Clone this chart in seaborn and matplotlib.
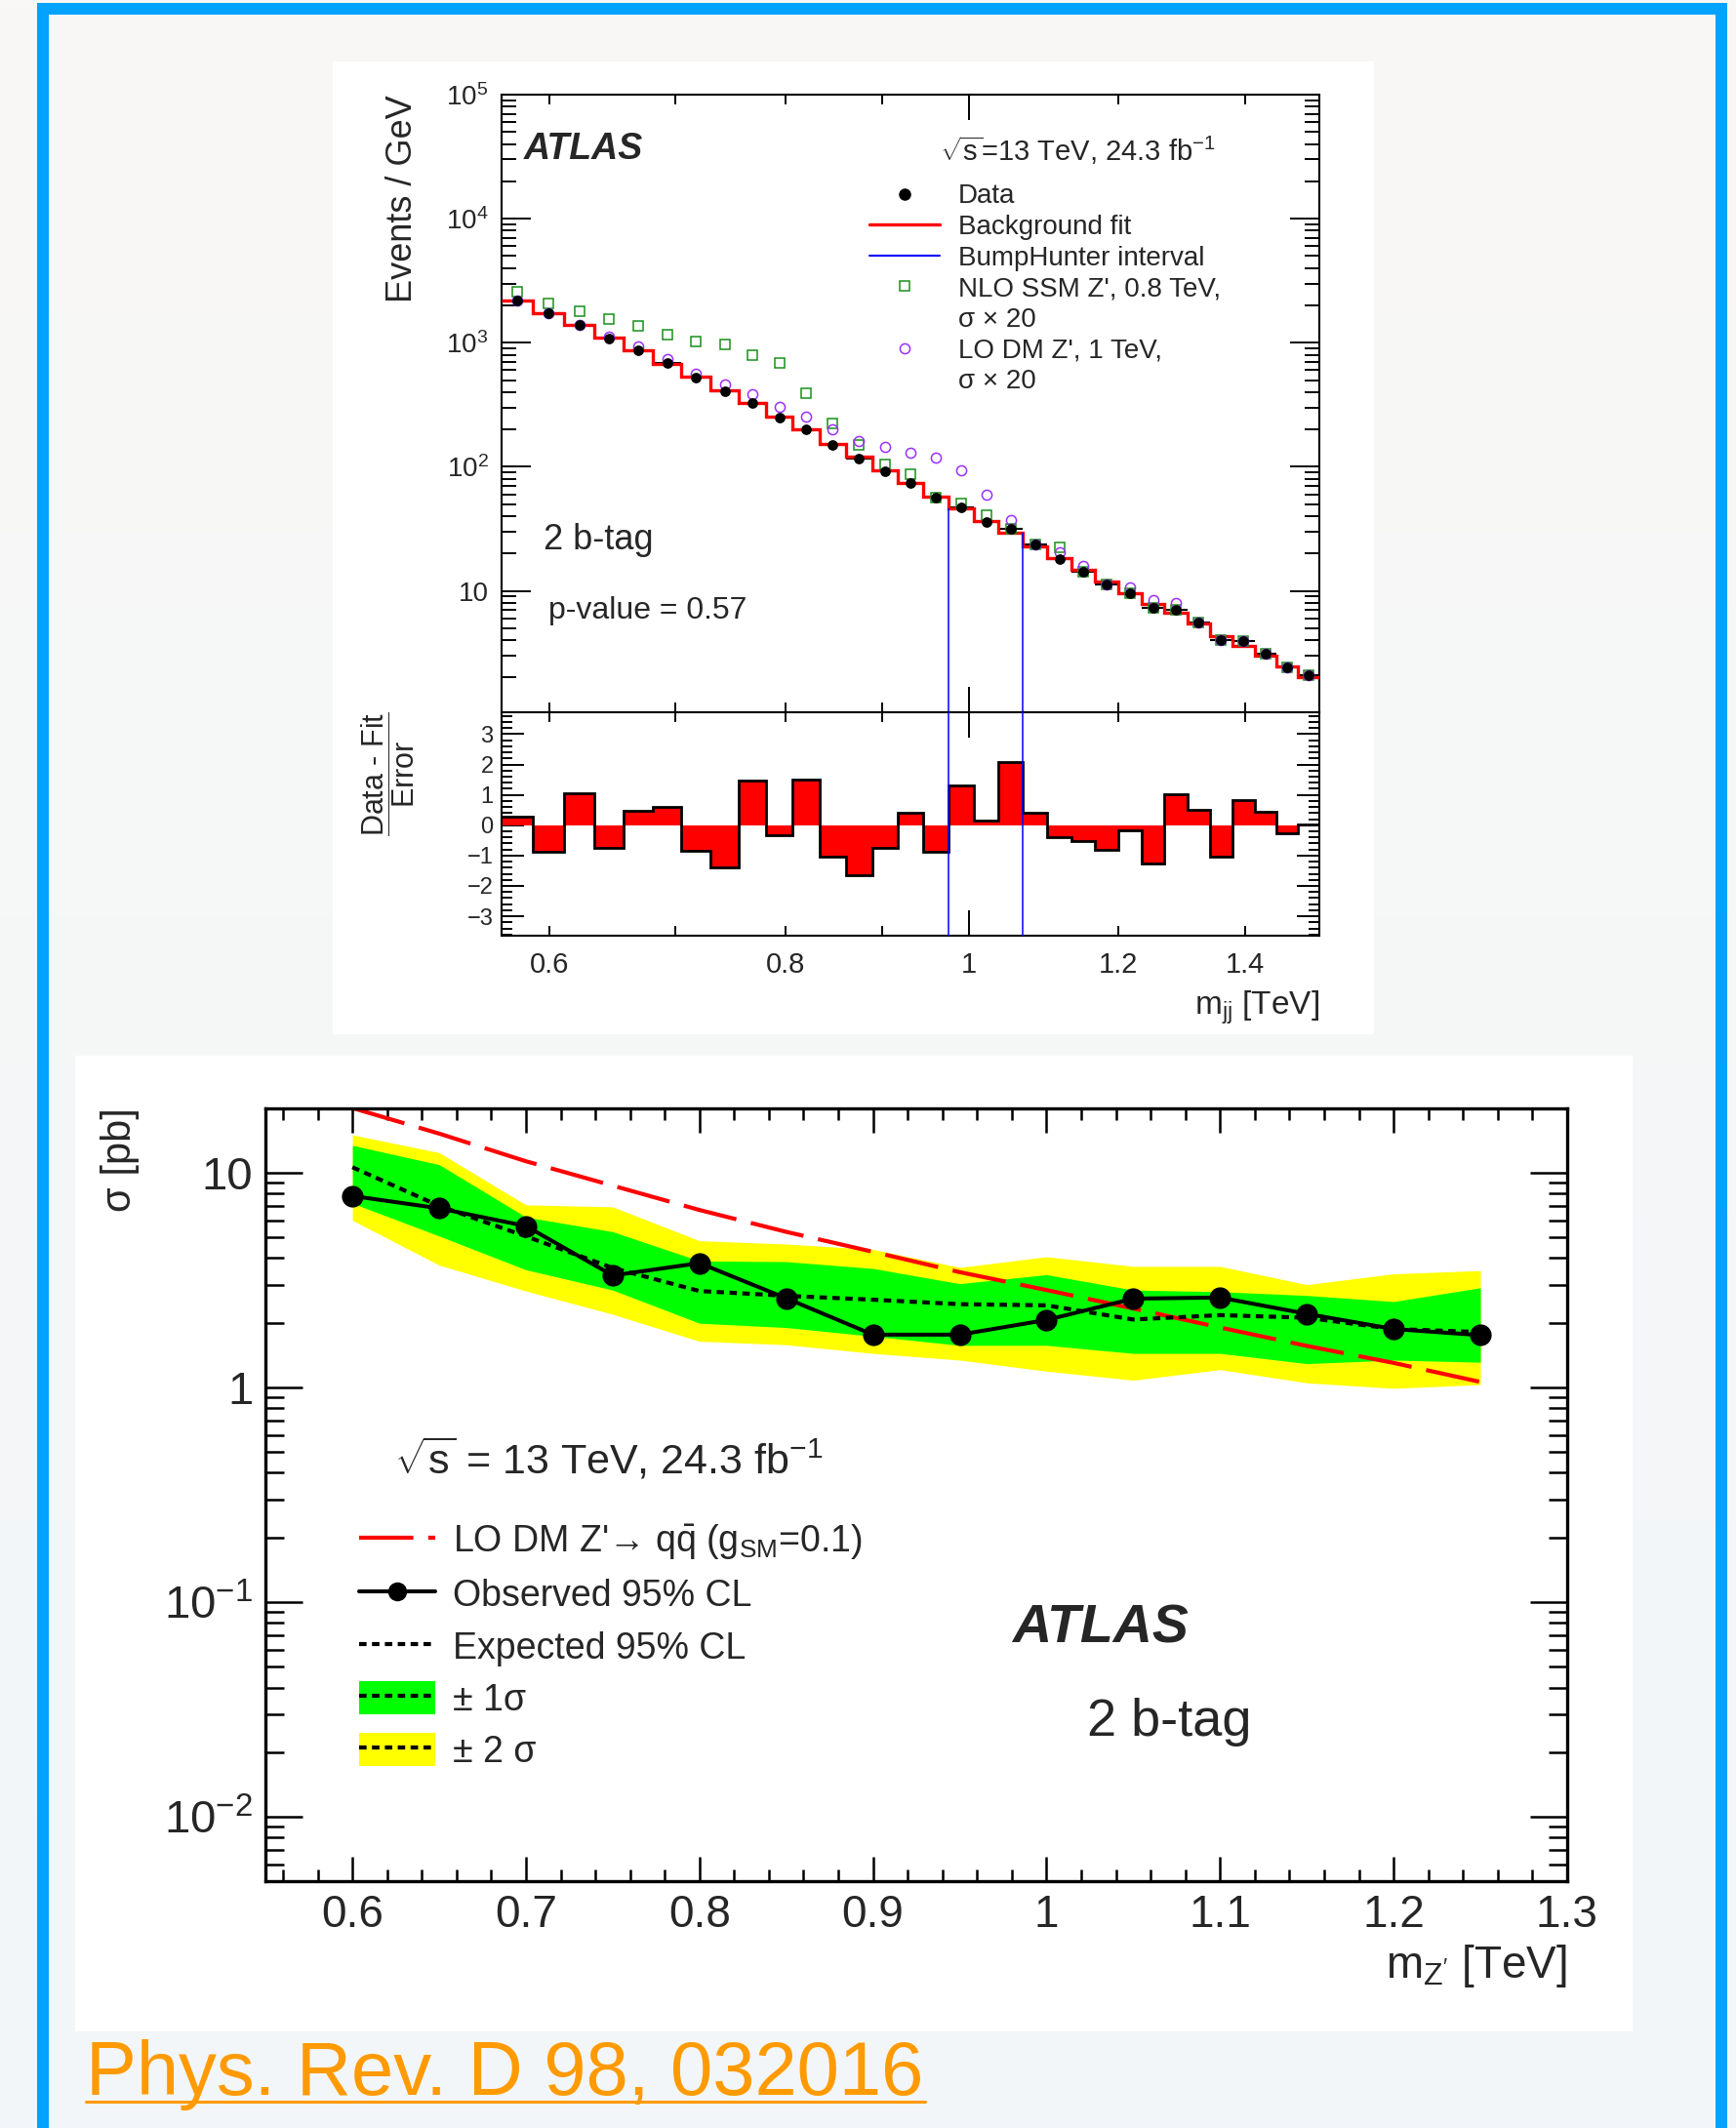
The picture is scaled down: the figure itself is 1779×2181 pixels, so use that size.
import numpy as np
import matplotlib
matplotlib.use("Agg")
import matplotlib.pyplot as plt
import seaborn as sns
from matplotlib.lines import Line2D
from matplotlib.patches import Rectangle, Patch
from matplotlib.colors import LinearSegmentedColormap
from matplotlib.ticker import (FixedLocator, NullFormatter, FuncFormatter,
                               LogLocator, MultipleLocator)

# ---------------- top panel: dijet mass spectrum (2 b-tag) ----------------
mjj_edges = [0.566, 0.588, 0.611, 0.634, 0.657, 0.681, 0.705, 0.730, 0.756,
             0.781, 0.807, 0.834, 0.861, 0.889, 0.917, 0.946, 0.976, 1.006,
             1.037, 1.068, 1.100, 1.133, 1.166, 1.199, 1.234, 1.269, 1.305,
             1.341, 1.378, 1.416, 1.455, 1.493, 1.533]
data_events = [2190, 1742, 1395, 1090, 872, 682, 524, 405, 328, 249, 201, 151,
               117, 91.5, 73.7, 56.6, 46.8, 36.1, 31.5, 23.5, 17.9, 14.2,
               11.35, 9.53, 7.33, 7.04, 5.58, 4.0, 3.95, 3.11, 2.4, 2.08]
bkg_fit = [2178, 1745, 1392, 1092, 872, 680, 532, 416, 325, 252, 199, 154,
           120, 94, 74, 57.5, 46, 36.4, 29.3, 23.0, 18.5, 14.8, 11.85, 9.65,
           7.9, 6.6, 5.42, 4.35, 3.62, 2.98, 2.45, 2.03]
ssm_zp_x20 = [2560, 2080, 1795, 1550, 1375, 1168, 1015, 965, 797, 684, 390,
              223, 151, 104, 87, 56.6, 51, 41, 31.5, 23.8, 22.6, 14.2, 11.35,
              9.53, 7.33, 7.04, 5.58, 4.0, 3.95, 3.11, 2.4, 2.08]
dm_zp_x20 = [2190, 1742, 1395, 1130, 940, 740, 565, 465, 388, 305, 255, 202,
             162, 144, 130, 118, 93, 59.5, 37.5, 23.5, 20.4, 15.8, 11.35, 10.6,
             8.4, 7.95, 5.58, 4.0, 3.95, 3.11, 2.4, 2.08]
signif = [0.27, -0.89, 1.04, -0.74, 0.47, 0.59, -0.86, -1.38, 1.48, -0.34,
          1.49, -1.05, -1.66, -0.75, 0.40, -0.87, 1.31, 0.16, 2.09, 0.41,
          -0.40, -0.51, -0.80, -0.18, -1.26, 1.01, 0.51, -1.03, 0.83, 0.45,
          -0.25, 0.02]
bh_low, bh_high = 0.976, 1.068

# ---------------- bottom panel: cross-section limits ----------------
mzp = [0.60, 0.65, 0.70, 0.75, 0.80, 0.85, 0.90, 0.95, 1.00, 1.05, 1.10,
       1.15, 1.20, 1.25]
obs_limit = [7.79, 6.82, 5.64, 3.32, 3.79, 2.60, 1.76, 1.76, 2.06, 2.59, 2.62,
             2.20, 1.87, 1.75]
exp_limit = [10.6, 7.0, 5.05, 3.6, 2.81, 2.67, 2.56, 2.44, 2.41, 2.07, 2.17,
             2.11, 1.87, 1.81]
exp_p1 = [13.4, 10.9, 6.21, 5.31, 3.88, 3.85, 3.58, 3.04, 3.35, 2.84, 2.79,
          2.68, 2.51, 2.91]
exp_m1 = [7.2, 5.07, 3.53, 2.84, 1.99, 1.90, 1.73, 1.57, 1.57, 1.44, 1.44,
          1.29, 1.34, 1.31]
exp_p2 = [15.0, 12.4, 7.08, 6.93, 4.82, 4.65, 4.39, 3.62, 4.06, 3.66, 3.66,
          3.01, 3.38, 3.50]
exp_m2 = [6.0, 3.71, 2.81, 2.19, 1.64, 1.58, 1.44, 1.34, 1.19, 1.08, 1.21,
          1.05, 0.99, 1.03]
theory_dm = [20.0, 15.2, 11.3, 8.7, 6.7, 5.3, 4.28, 3.44, 2.84, 2.33, 1.90,
             1.56, 1.30, 1.06]

# ---------------- style ----------------
sns.set_theme(style="ticks")
plt.rcParams["font.family"] = ["Liberation Sans", "DejaVu Sans"]
plt.rcParams["mathtext.fontset"] = "custom"
plt.rcParams["mathtext.rm"] = "Liberation Sans"
plt.rcParams["mathtext.it"] = "Liberation Sans:italic"
plt.rcParams["mathtext.bf"] = "Liberation Sans:bold"
plt.rcParams["lines.scale_dashes"] = False
plt.rcParams["axes.unicode_minus"] = True

W, H = 1779, 2181
PX = 0.72  # points per pixel at dpi 100
fig = plt.figure(figsize=(W / 100, H / 100), dpi=100)


def fx(x):
    return x / W


def fy(y):
    return 1 - y / H


def rect(x0, y0, x1, y1, color, z):
    fig.add_artist(Rectangle((fx(x0), fy(y1)), (x1 - x0) / W, (y1 - y0) / H,
                             transform=fig.transFigure, facecolor=color,
                             edgecolor="none", zorder=z))


# background
bg = fig.add_axes([0, 0, 1, 1], zorder=-10)
bg.imshow(np.linspace(0, 1, 256)[:, None], aspect="auto",
          cmap=LinearSegmentedColormap.from_list("bg", ["#f9f8f6", "#f2f6fa"]),
          extent=[0, 1, 0, 1])
bg.axis("off")
blue = "#02a2fe"
rect(38, 3, 1770, 15, blue, -4)
rect(38, 3, 50, H, blue, -4)
rect(1758, 3, 1770, H, blue, -4)
rect(341, 63, 1408, 1060, "white", -5)
rect(77, 1082, 1673, 2082, "white", -5)

# ---------------- top panel ----------------
edges = np.array(mjj_edges)
centers = 0.5 * (edges[:-1] + edges[1:])
L, R = 513.6, 1352.4
ax_m = fig.add_axes([fx(L), fy(730), (R - L) / W, (730 - 97) / H])
ax_r = fig.add_axes([fx(L), fy(959.3), (R - L) / W, (959.3 - 730) / H])

green = "#1a8f1a"
purple = "#9b30ff"

ax_m.errorbar(centers, data_events,
              xerr=[centers - edges[:-1], edges[1:] - centers],
              fmt="none", ecolor="black", elinewidth=1.5, capsize=0, zorder=2)
ax_m.stairs(bkg_fit, edges, color="red", lw=2.4, baseline=None, zorder=3)
ax_m.plot(centers, ssm_zp_x20, ls="none", marker="s", ms=6.5, mfc="none",
          mec=green, mew=1.1, zorder=4)
ax_m.plot(centers, dm_zp_x20, ls="none", marker="o", ms=7.3, mfc="none",
          mec=purple, mew=1.1, zorder=4)
sns.scatterplot(x=centers, y=data_events, ax=ax_m, color="black", s=60,
                edgecolor="black", linewidth=0, zorder=5, legend=False)

i_lo = mjj_edges.index(bh_low)
i_hi = mjj_edges.index(bh_high)
ax_m.vlines([bh_low, bh_high], 1.0, [bkg_fit[i_lo], bkg_fit[i_hi - 1]],
            color="blue", lw=1.1, zorder=6)

ax_m.set_xscale("log")
ax_m.set_yscale("log")
ax_m.set_xlim(edges[0], edges[-1])
ax_m.set_ylim(1.05, 1e5)

ax_r.stairs(signif, edges, fill=True, color="red", baseline=0, zorder=2)
ax_r.stairs(signif, edges, color="black", lw=2.0, baseline=None, zorder=3)
ax_r.axvline(bh_low, color="blue", lw=1.1, zorder=6)
ax_r.axvline(bh_high, color="blue", lw=1.1, zorder=6)
ax_r.set_xscale("log")
ax_r.set_xlim(edges[0], edges[-1])
ax_r.set_ylim(-3.65, 3.72)


def logfmt(v, pos):
    e = int(round(np.log10(v)))
    if e == 0:
        return "1"
    if e == 1:
        return "10"
    return r"$\mathdefault{10^{%d}}$" % e


for ax in (ax_m, ax_r):
    ax.set_facecolor("white")
    for s in ax.spines.values():
        s.set_color("black")
        s.set_linewidth(1.5)
    ax.xaxis.set_major_locator(FixedLocator([1.0]))
    ax.xaxis.set_minor_locator(FixedLocator([0.6, 0.7, 0.8, 0.9, 1.2, 1.4]))
    ax.tick_params(which="both", direction="in", top=True, right=True,
                   width=1.4, color="black")
    ax.tick_params(axis="x", which="major", length=26 * PX)
    ax.tick_params(axis="x", which="minor", length=10 * PX)

ax_m.xaxis.set_major_formatter(NullFormatter())
ax_m.xaxis.set_minor_formatter(NullFormatter())
ax_m.yaxis.set_major_locator(LogLocator(base=10, numticks=10))
ax_m.yaxis.set_minor_locator(LogLocator(base=10, subs=np.arange(2, 10), numticks=20))
ax_m.yaxis.set_major_formatter(FuncFormatter(logfmt))
ax_m.yaxis.set_minor_formatter(NullFormatter())
ax_m.tick_params(axis="y", which="major", length=30 * PX, labelsize=20,
                 pad=13 * PX)
ax_m.tick_params(axis="y", which="minor", length=15 * PX)

ax_r.xaxis.set_major_formatter(FuncFormatter(lambda v, p: "%g" % round(v, 2)))
ax_r.xaxis.set_minor_formatter(FuncFormatter(
    lambda v, p: "" if round(v, 2) in (0.7, 0.9) else "%g" % round(v, 2)))
ax_r.tick_params(axis="x", which="both", labelsize=21, pad=16 * PX)
ax_r.yaxis.set_major_locator(MultipleLocator(1))
ax_r.yaxis.set_minor_locator(MultipleLocator(0.2))
ax_r.yaxis.set_major_formatter(FuncFormatter(
    lambda v, p: str(int(round(v))).replace("-", "\u2212")))
ax_r.tick_params(axis="y", which="major", length=23 * PX, labelsize=17,
                 pad=8 * PX)
ax_r.tick_params(axis="y", which="minor", length=11 * PX)

# top legend
hl = [Line2D([], [], ls="none", marker="o", color="black", ms=8),
      Line2D([], [], color="red", lw=2.4),
      Line2D([], [], color="blue", lw=1.5),
      Line2D([], [], ls="none", marker="s", mfc="none", mec=green, ms=6.5, mew=1.1),
      Line2D([], [], ls="none"),
      Line2D([], [], ls="none", marker="o", mfc="none", mec=purple, ms=7.3, mew=1.1),
      Line2D([], [], ls="none")]
ll = ["Data", "Background fit", "BumpHunter interval",
      "NLO SSM Z', 0.8 TeV,", "\u03c3 \u00d7 20", "LO DM Z', 1 TeV,",
      "\u03c3 \u00d7 20"]
ax_m.legend(hl, ll, loc="upper left",
            bbox_to_anchor=((891 - L) / (R - L), 1 - (188.5 - 97) / 633),
            frameon=False, fontsize=20, handlelength=72 / 27.8,
            handletextpad=19 / 27.8, labelspacing=0.2, borderpad=0,
            borderaxespad=0)

fig.text(fx(413), fy(97), "Events / GeV", rotation=90, ha="center",
         va="top", fontsize=26)
fig.text(fx(398), fy(730), r"$\dfrac{\mathrm{Data\ \text{-}\ Fit}}{\mathrm{Error}}$",
         rotation=90, ha="center", va="top", fontsize=22)
fig.text(fx(R), fy(1040), r"m$_{\mathrm{jj}}$ [TeV]", ha="right",
         va="baseline", fontsize=24)
fig.text(fx(537), fy(163), "ATLAS", fontsize=27, fontweight="bold",
         fontstyle="italic", va="baseline")
fig.text(fx(963), fy(165), r"$\sqrt{\mathrm{s}}$=13 TeV, 24.3 fb$^{-1}$",
         fontsize=21, va="baseline")
fig.text(fx(557), fy(563), "2 b-tag", fontsize=26, va="baseline")
fig.text(fx(562), fy(634), "p-value = 0.57", fontsize=23, va="baseline")

# ---------------- bottom panel ----------------
BL, BR, BT, BB = 272.2, 1605.9, 1135.6, 1928.3
ax_l = fig.add_axes([fx(BL), fy(BB), (BR - BL) / W, (BB - BT) / H])
ax_l.set_facecolor("white")
yellow, lime = "#ffff00", "#00ff00"
dots = (0, (5.5, 4.0))
ax_l.fill_between(mzp, exp_m2, exp_p2, color=yellow, lw=0, zorder=1)
ax_l.fill_between(mzp, exp_m1, exp_p1, color=lime, lw=0, zorder=1.1)
sns.lineplot(x=mzp, y=theory_dm, ax=ax_l, color="red", lw=3.0,
             linestyle=(0, (40, 11)), zorder=2)
sns.lineplot(x=mzp, y=exp_limit, ax=ax_l, color="black", lw=3.0,
             linestyle=dots, zorder=3)
sns.lineplot(x=mzp, y=obs_limit, ax=ax_l, color="black", lw=2.9,
             marker="o", markersize=16, markeredgecolor="black",
             markeredgewidth=0, zorder=4)
ax_l.set_yscale("log")
ax_l.set_xlim(0.55, 1.3)
ax_l.set_ylim(0.005, 20)
for s in ax_l.spines.values():
    s.set_color("black")
    s.set_linewidth(2.4)
ax_l.xaxis.set_major_locator(MultipleLocator(0.1))
ax_l.xaxis.set_minor_locator(MultipleLocator(0.02))
ax_l.xaxis.set_major_formatter(FuncFormatter(lambda v, p: "%g" % round(v, 2)))
ax_l.yaxis.set_major_locator(LogLocator(base=10, numticks=10))
ax_l.yaxis.set_minor_locator(LogLocator(base=10, subs=np.arange(2, 10), numticks=20))
ax_l.yaxis.set_major_formatter(FuncFormatter(logfmt))
ax_l.yaxis.set_minor_formatter(NullFormatter())
ax_l.tick_params(which="both", direction="in", top=True, right=True,
                 width=1.8, color="black")
ax_l.tick_params(axis="x", which="major", length=25 * PX, labelsize=33,
                 pad=13 * PX)
ax_l.tick_params(axis="x", which="minor", length=12 * PX)
ax_l.tick_params(axis="y", which="major", length=38 * PX, labelsize=34,
                 pad=13 * PX)
ax_l.tick_params(axis="y", which="minor", length=19 * PX)
ax_l.set_xlabel("")
ax_l.set_ylabel("")

dl = Line2D([], [], color="black", lw=3.0, linestyle=dots)
hb = [Line2D([], [], color="red", lw=3.0, linestyle=(0, (40, 11))),
      Line2D([], [], color="black", lw=2.9, marker="o", ms=14, mew=0),
      Line2D([], [], color="black", lw=3.0, linestyle=dots),
      (Patch(facecolor=lime, edgecolor="none"), dl),
      (Patch(facecolor=yellow, edgecolor="none"), dl)]
lb = ["LO DM Z'\u2192 q$\\bar{\\mathrm{q}}$ (g$_{\\mathrm{SM}}$=0.1)",
      "Observed 95% CL", "Expected 95% CL", "\u00b1 1\u03c3", "\u00b1 2 \u03c3"]
ax_l.legend(hb, lb, loc="upper left",
            bbox_to_anchor=((368 - BL) / (BR - BL), (BB - 1561) / (BB - BT)),
            frameon=False, fontsize=27, handlelength=78 / 37.5,
            handletextpad=18 / 37.5, handleheight=38 / 37.5,
            labelspacing=0.41, borderpad=0, borderaxespad=0)

fig.text(fx(123), fy(BT), "\u03c3 [pb]", rotation=90, ha="center", va="top",
         fontsize=30)
fig.text(fx(BR), fy(2027), r"m$_{\mathrm{Z'}}$ [TeV]", ha="right",
         va="baseline", fontsize=33)
fig.text(fx(404), fy(1510), r"$\sqrt{\mathrm{s}}$ = 13 TeV, 24.3 fb$^{-1}$",
         fontsize=31, va="baseline")
fig.text(fx(1037), fy(1683), "ATLAS", fontsize=40, fontweight="bold",
         fontstyle="italic", va="baseline")
fig.text(fx(1114), fy(1779), "2 b-tag", fontsize=39, va="baseline")

# reference link
orange = "#ff9a00"
fig.text(fx(88), fy(2147), "Phys. Rev. D 98, 032016", fontsize=56,
         color=orange, va="baseline")
fig.add_artist(Line2D([fx(88), fx(948)], [fy(2154), fy(2154)],
                      transform=fig.transFigure, color=orange, lw=2.2))

fig.savefig("out.png", dpi=100)
